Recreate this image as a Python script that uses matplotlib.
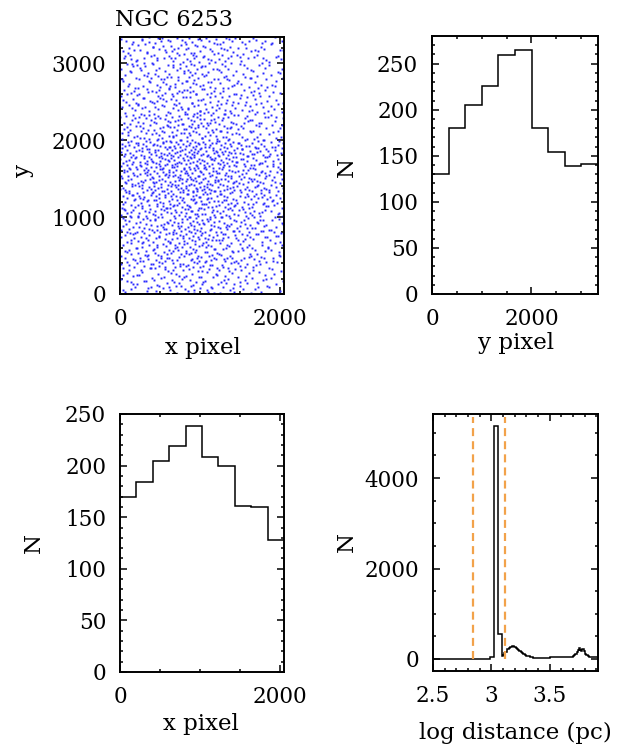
import numpy as np
import matplotlib
matplotlib.use("Agg")
import matplotlib.pyplot as plt
from matplotlib.ticker import MultipleLocator, FuncFormatter

plt.rcParams['font.family'] = ['DejaVu Serif']
plt.rcParams['font.size'] = 15.5

# Detector field size (pixels)
X_MAX = 2048
Y_MAX = 3340

# Star counts in 10 equal bins along x (0..X_MAX)
x_counts = [170, 184, 204, 219, 238, 208, 200, 161, 160, 128]
# Star counts in 10 equal bins along y (0..Y_MAX)
y_counts = [130, 180, 205, 226, 259, 265, 180, 154, 139, 141]

# Star counts over the field on a 10x10 grid (rows: y bins from the bottom, cols: x bins)
field_counts = [
    [12, 13, 14, 15, 16, 14, 14, 11, 11, 9],
    [16, 18, 20, 21, 23, 20, 19, 15, 15, 12],
    [19, 20, 22, 24, 26, 23, 22, 18, 17, 14],
    [20, 22, 25, 26, 29, 25, 24, 19, 19, 15],
    [23, 25, 28, 30, 33, 29, 28, 22, 22, 18],
    [24, 26, 29, 31, 34, 29, 28, 23, 23, 18],
    [16, 18, 20, 21, 23, 20, 19, 15, 15, 12],
    [14, 15, 17, 18, 20, 17, 16, 13, 13, 11],
    [13, 14, 15, 16, 18, 15, 15, 12, 12, 9],
    [13, 14, 15, 16, 18, 16, 15, 12, 12, 10],
]

# Distance histogram: bins of 0.01 in log10(d/pc) from 2.50 to 3.92
dist_edges = np.round(np.linspace(2.50, 3.92, 143), 2)
dist_counts = [
    5, 5, 5, 5, 5, 5, 5, 5, 5, 5, 5, 5, 5, 5, 5, 5, 5, 5, 5, 5,
    5, 5, 5, 5, 5, 5, 5, 5, 5, 5, 5, 5, 5, 5, 5, 5, 5, 5, 5, 5,
    8, 8, 8, 8, 8, 8, 8, 8, 8,
    40, 40, 40,
    5160, 5160, 5160, 5160,
    553, 553, 553,
    60, 80, 140, 150, 215, 225, 250, 262, 270, 280,
    275, 262, 240, 220, 200, 180, 158, 135, 118, 100,
    88, 75, 65, 55, 48, 42, 36,
    28, 28, 28, 28, 28, 28, 28, 28, 28, 28, 28, 28, 28, 28,
    38, 38, 38, 38, 38, 38, 38, 38, 38, 38,
    38, 38, 38, 38, 38, 38, 38, 38, 38, 38,
    60, 90, 120, 160, 195, 245, 200, 170, 225, 175,
    120, 95, 78, 62, 52, 45,
    36, 36, 36, 36, 36, 36,
]
# Distance cuts for cluster membership (pc)
dist_cuts = [700, 1300]


def radical_inverse(k, base):
    f, r = 1.0, 0.0
    while k > 0:
        f /= base
        r += f * (k % base)
        k //= base
    return r


# Spread the stars of each grid cell inside the cell: a Halton layout whose
# starting index and axis order change from cell to cell
cell_w = X_MAX / 10.0
cell_h = Y_MAX / 10.0
xs, ys = [], []
cell = 0
for j, row in enumerate(field_counts):
    for i, c in enumerate(row):
        start = (cell * 7919) % 4099 + 11
        for k in range(c):
            a = radical_inverse(start + k, 2)
            b = radical_inverse(start + k, 3)
            u, v = (a, b) if cell % 2 == 0 else (b, a)
            if (cell // 2) % 2:
                u = 1.0 - u
            xs.append((i + u) * cell_w)
            ys.append((j + v) * cell_h)
        cell += 1

W, H = 629, 751
fig = plt.figure(figsize=(W / 100, H / 100), dpi=100)


def box(l, t, r, b):
    return [l / W, 1 - b / H, (r - l) / W, (b - t) / H]


def style(ax, xmaj, xmin, ymaj, ymin):
    ax.xaxis.set_major_locator(MultipleLocator(xmaj))
    ax.xaxis.set_minor_locator(MultipleLocator(xmin))
    ax.yaxis.set_major_locator(MultipleLocator(ymaj))
    ax.yaxis.set_minor_locator(MultipleLocator(ymin))
    ax.tick_params(which='both', direction='in', top=True, right=True,
                   width=1.1, colors='black')
    ax.tick_params(which='major', length=5, pad=10, labelsize=15.5)
    ax.tick_params(which='minor', length=2.5)
    for s in ax.spines.values():
        s.set_linewidth(1.4)
    ax.xaxis.set_major_formatter(FuncFormatter(lambda v, p: '%g' % v))
    ax.yaxis.set_major_formatter(FuncFormatter(lambda v, p: '%g' % v))


def labels(ax, xl, xlc, yl, ylc):
    ax.set_xlabel(xl, fontsize=16.5)
    ax.set_ylabel(yl, fontsize=16.5)
    ax.xaxis.set_label_coords(*xlc)
    ax.yaxis.set_label_coords(*ylc)
    ax.xaxis.label.set_va('center')
    ax.yaxis.label.set_va('center')


# Field map
ax1 = fig.add_axes(box(120, 37, 284, 294))
ax1.plot(xs, ys, linestyle='none', marker='s', markersize=1.4,
         markeredgewidth=0, color='#2a2aff')
ax1.set_xlim(0, X_MAX)
ax1.set_ylim(0, Y_MAX)
style(ax1, 2000, 500, 1000, 200)
labels(ax1, 'x pixel', (0.506, -0.21), 'y', (-0.59, 0.482))
fig.text(115 / W, 1 - 26 / H, 'NGC 6253', fontsize=16, ha='left', va='baseline')

# y distribution
ax2 = fig.add_axes(box(432, 36, 598, 294))
ax2.stairs(y_counts, np.linspace(0, Y_MAX, 11), baseline=None,
           color='black', linewidth=1.1)
ax2.set_xlim(0, Y_MAX)
ax2.set_ylim(0, 280)
style(ax2, 2000, 500, 50, 10)
labels(ax2, 'y pixel', (0.506, -0.19), 'N', (-0.512, 0.492))

# x distribution
ax3 = fig.add_axes(box(120, 414, 284, 672))
ax3.stairs(x_counts, np.linspace(0, X_MAX, 11), baseline=None,
           color='black', linewidth=1.1)
ax3.set_xlim(0, X_MAX)
ax3.set_ylim(0, 250)
style(ax3, 2000, 500, 50, 10)
labels(ax3, 'x pixel', (0.496, -0.2), 'N', (-0.524, 0.5))

# Distance distribution
ax4 = fig.add_axes(box(433, 414, 598, 671))
ax4.stairs(dist_counts, dist_edges, baseline=None, color='black', linewidth=1.1)
ax4.set_xlim(2.5, 3.914)
ax4.set_ylim(-266, 5417)
for d in dist_cuts:
    ax4.axvline(np.log10(d), ymin=0.047, ymax=0.99, color='#f2a24a',
                linewidth=1.6, dashes=(3.6, 2.3))
style(ax4, 0.5, 0.1, 2000, 500)
labels(ax4, 'log distance (pc)', (0.497, -0.241), 'N', (-0.52, 0.5))

fig.savefig('out.png', dpi=100)
